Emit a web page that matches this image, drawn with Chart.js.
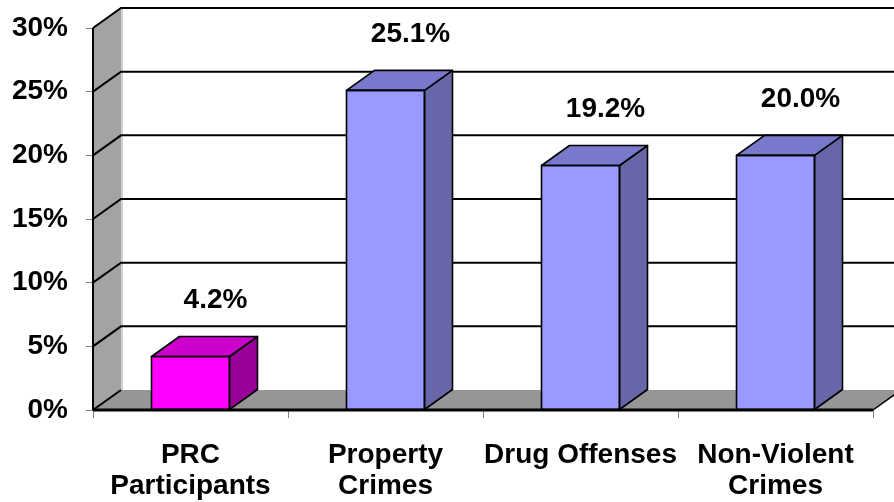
<!DOCTYPE html>
<html><head><meta charset="utf-8">
<script src="https://cdn.jsdelivr.net/npm/chart.js@4"></script>
<style>html,body{margin:0;padding:0;background:#fff}#wrap{width:894px;height:502px}</style>
</head><body><div id="wrap"><canvas id="c"></canvas></div>
<script>
const categories = [['PRC','Participants'],['Property','Crimes'],'Drug Offenses',['Non-Violent','Crimes']];
const values = [4.2, 25.1, 19.2, 20.0];
const valueLabels = ['4.2%','25.1%','19.2%','20.0%'];
const yTicks = [0,5,10,15,20,25,30];

const frontColors = ['#ff00ff','#9999ff','#9999ff','#9999ff'];
const topColors = ['#cc00cc','#7878cc','#7878cc','#7878cc'];
const sideColors = ['#990099','#6666a8','#6666a8','#6666a8'];
const FONT = "'Liberation Sans', Arial, sans-serif";
const DX = 28, DY = 20;

function poly(ctx, pts, fill, stroke, lw){
  ctx.beginPath();
  ctx.moveTo(pts[0][0], pts[0][1]);
  for (let i=1;i<pts.length;i++) ctx.lineTo(pts[i][0], pts[i][1]);
  ctx.closePath();
  if (fill){ ctx.fillStyle = fill; ctx.fill(); }
  if (stroke){ ctx.strokeStyle = stroke; ctx.lineWidth = lw||1; ctx.stroke(); }
}

const threeD = {
  id: 'threeD',
  beforeDatasetsDraw(chart){
    const {ctx, chartArea:a, scales:{y}} = chart;
    ctx.save();
    const b = a.bottom, t = y.getPixelForValue(30);
    poly(ctx, [[a.left,t],[a.left+DX,t-DY],[a.left+DX,b-DY],[a.left,b]], '#a3a3a3');
    poly(ctx, [[a.left,b],[a.left+DX,b-DY],[a.right+DX,b-DY],[a.right,b]], '#969696');
    ctx.strokeStyle = '#d0d0d0'; ctx.lineWidth = 2;
    ctx.beginPath(); ctx.moveTo(a.left+DX+1, t-DY); ctx.lineTo(a.left+DX+1, b-DY); ctx.stroke();
    ctx.strokeStyle = '#000'; ctx.lineWidth = 2;
    yTicks.forEach(v => {
      const py = y.getPixelForValue(v);
      ctx.beginPath();
      ctx.moveTo(a.left, py);
      ctx.lineTo(a.left+DX, py-DY);
      if (v > 0) ctx.lineTo(a.right+DX+10, py-DY);
      ctx.stroke();
    });
    ctx.lineWidth = 1.5;
    ctx.beginPath(); ctx.moveTo(a.right, b); ctx.lineTo(a.right+DX, b-DY); ctx.stroke();
    ctx.lineWidth = 2;
    ctx.beginPath(); ctx.moveTo(a.left, t); ctx.lineTo(a.left, b); ctx.stroke();
    ctx.restore();
  },
  afterDatasetsDraw(chart){
    const {ctx, chartArea:a} = chart;
    const meta = chart.getDatasetMeta(0);
    ctx.save();
    ctx.lineJoin = 'round';
    meta.data.forEach((bar, i) => {
      const p = bar.getProps(['x','y','base','width'], true);
      const l = p.x - p.width/2, r = p.x + p.width/2, top = p.y, base = p.base;
      poly(ctx, [[r,top],[r+DX,top-DY],[r+DX,base-DY],[r,base]], sideColors[i], '#000', 1.6);
      poly(ctx, [[l,top],[l+DX,top-DY],[r+DX,top-DY],[r,top]], topColors[i], '#000', 1.6);
      ctx.strokeStyle = '#000'; ctx.lineWidth = 1.6;
      ctx.strokeRect(l, top, p.width, base-top);
      ctx.fillStyle = '#000';
      ctx.font = 'bold 28px ' + FONT;
      ctx.textAlign = 'center'; ctx.textBaseline = 'middle';
      ctx.fillText(valueLabels[i], p.x + 25, top - 56);
    });
    ctx.strokeStyle = '#000'; ctx.lineWidth = 3;
    ctx.beginPath(); ctx.moveTo(a.left, a.bottom); ctx.lineTo(a.right, a.bottom); ctx.stroke();
    ctx.restore();
  }
};

new Chart(document.getElementById('c'), {
  type: 'bar',
  data: {
    labels: categories,
    datasets: [{
      data: values,
      backgroundColor: frontColors,
      borderWidth: 0,
      barPercentage: 0.4,
      categoryPercentage: 1.0
    }]
  },
  options: {
    responsive: true,
    maintainAspectRatio: false,
    animation: false,
    layout: { padding: { top: 28, right: 21, left: 0, bottom: 0 } },
    plugins: { legend: { display: false }, tooltip: { enabled: false } },
    scales: {
      x: {
        afterFit(s){ s.height = 92; s.paddingLeft = 0; s.paddingRight = 0; },
        grid: { display: true, drawOnChartArea: false, offset: true, tickLength: 8, color: '#808080', lineWidth: 1 },
        border: { display: false },
        ticks: { color: '#000', font: { family: FONT, size: 28, weight: 'bold', lineHeight: 1.1 }, padding: 22, maxRotation: 0, autoSkip: false }
      },
      y: {
        min: 0, max: 30,
        afterFit(s){ s.width = 93; s.paddingTop = 0; s.paddingBottom = 0; },
        afterBuildTicks(s){ s.ticks = yTicks.map(v => ({ value: v })); },
        grid: { display: true, drawOnChartArea: false, tickLength: 7, color: '#808080', lineWidth: 1 },
        border: { display: false },
        ticks: { color: '#000', font: { family: FONT, size: 28, weight: 'bold' }, padding: 18, callback: v => v + '%' }
      }
    }
  },
  plugins: [threeD]
});
</script>
</body></html>
